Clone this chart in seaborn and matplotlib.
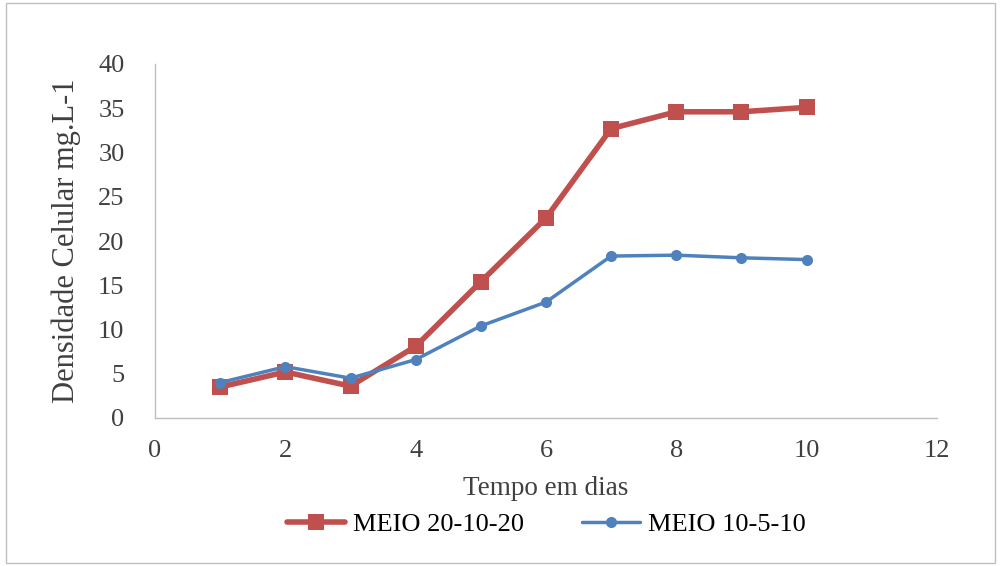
import pandas as pd
import numpy as np
import seaborn as sns
import matplotlib.pyplot as plt
from matplotlib.patches import Rectangle

# Data
dias = [1, 2, 3, 4, 5, 6, 7, 8, 9, 10]
meio_20_10_20 = [3.5, 5.2, 3.6, 8.1, 15.4, 22.6, 32.7, 34.6, 34.6, 35.1]
meio_10_5_10 = [4.0, 5.8, 4.5, 6.6, 10.4, 13.1, 18.3, 18.4, 18.1, 17.9]

df = pd.DataFrame({
    'Tempo': dias * 2,
    'Densidade': meio_20_10_20 + meio_10_5_10,
    'Meio': ['MEIO 20-10-20'] * len(dias) + ['MEIO 10-5-10'] * len(dias),
})

sns.set_style('white')
plt.rcParams['font.family'] = ['Liberation Serif', 'DejaVu Serif']

fig = plt.figure(figsize=(10.01, 5.66), dpi=100)
ax = fig.add_axes([155 / 1001, 1 - 418 / 566, (937 - 155) / 1001, (418 - 64) / 566])

palette = {'MEIO 20-10-20': '#C0504D', 'MEIO 10-5-10': '#4F81BD'}
markers = {'MEIO 20-10-20': 's', 'MEIO 10-5-10': 'o'}

for meio in ['MEIO 20-10-20', 'MEIO 10-5-10']:
    sub = df[df['Meio'] == meio]
    red = meio == 'MEIO 20-10-20'
    sns.lineplot(data=sub, x='Tempo', y='Densidade', ax=ax, color=palette[meio],
                 marker=markers[meio], markersize=11 if red else 8,
                 markeredgewidth=0, linewidth=4.0 if red else 2.5, label=meio)

ax.set_xlim(0, 12)
ax.set_ylim(0, 40)
ax.set_xticks(range(0, 13, 2))
ax.set_yticks(range(0, 41, 5))
ax.tick_params(axis='both', labelsize=19, length=0)
ax.tick_params(axis='y', pad=22)
ax.tick_params(axis='x', pad=16)
for lab in ax.get_xticklabels() + ax.get_yticklabels():
    lab.set_color('#404040')

for side in ['top', 'right']:
    ax.spines[side].set_visible(False)
for side in ['left', 'bottom']:
    ax.spines[side].set_color('#BFBFBF')
    ax.spines[side].set_linewidth(1)

ax.set_xlabel('Tempo em dias', fontsize=19.5, color='#404040', labelpad=10)
ax.set_ylabel('Densidade Celular mg.L-1', fontsize=22, color='#404040', labelpad=12)

leg = ax.legend(loc='upper center', bbox_to_anchor=(0.5, -0.2), ncol=2, frameon=False,
                fontsize=19, handlelength=2.2, columnspacing=2.2, handletextpad=0.3)
for t in leg.get_texts():
    t.set_color('black')

fig.patches.append(Rectangle((0.006, 0.006), 0.988, 0.988, transform=fig.transFigure,
                             fill=False, edgecolor='#BFBFBF', linewidth=1))

fig.savefig('out.png', dpi=100)
